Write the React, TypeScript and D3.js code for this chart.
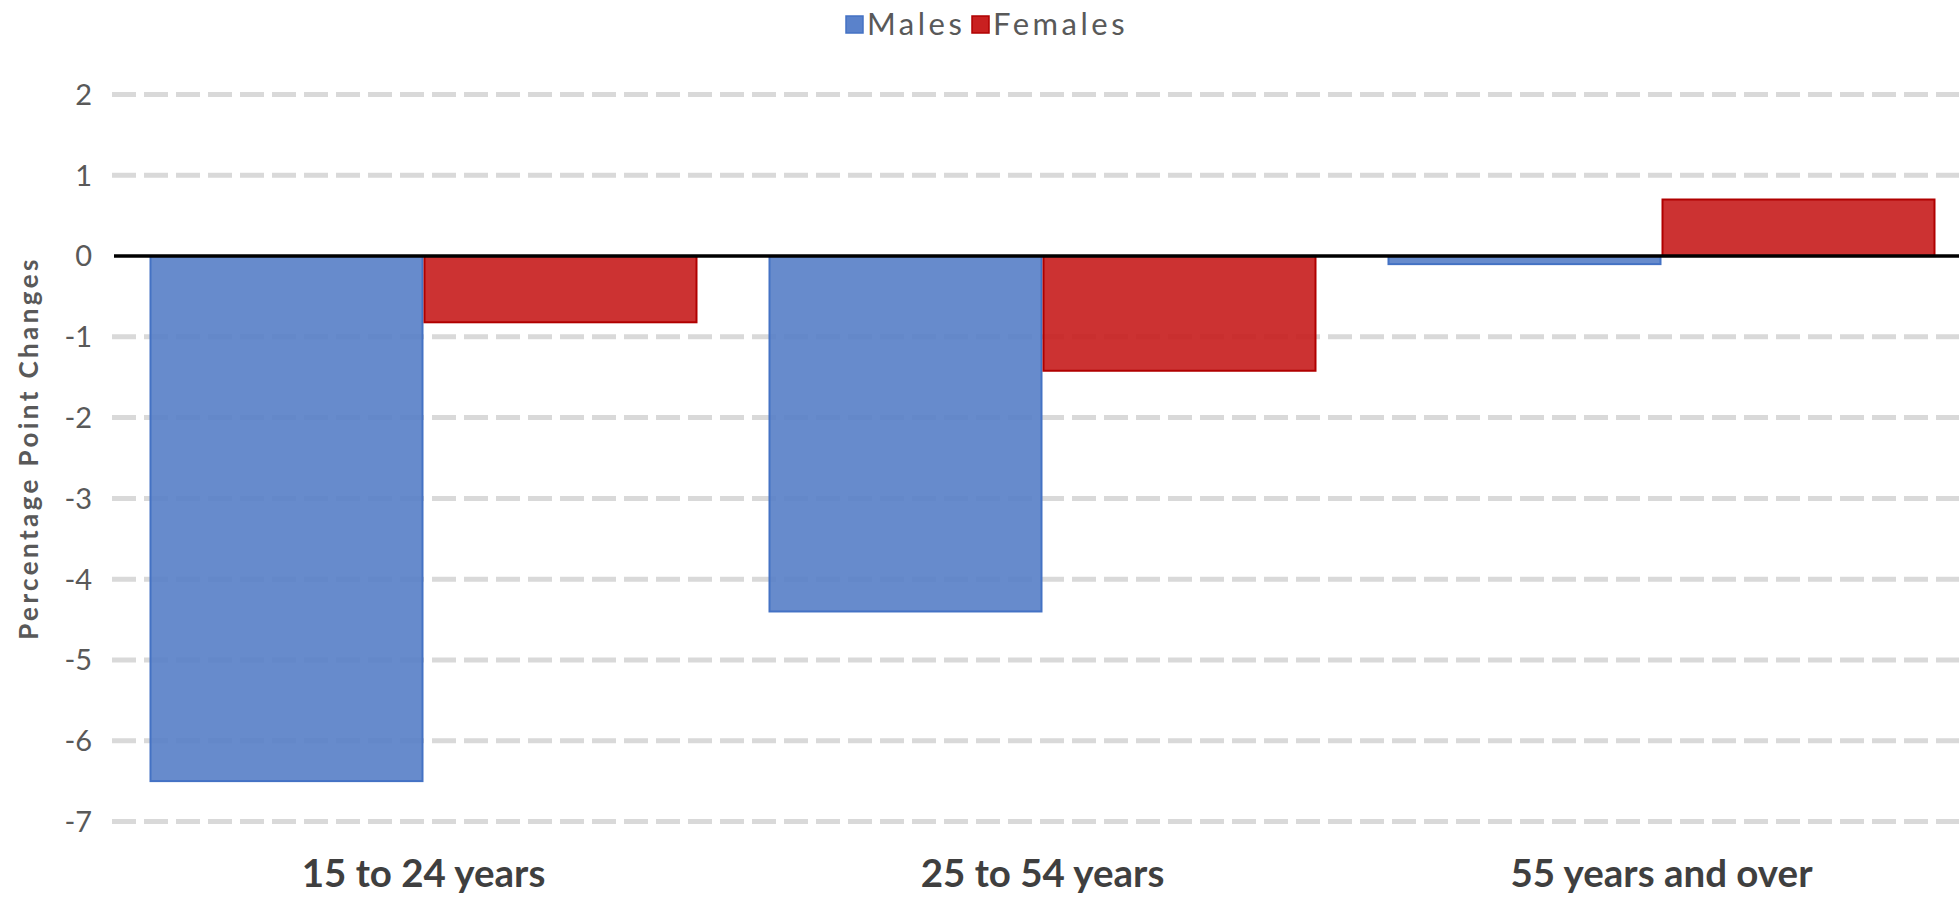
import React from "react";
import * as d3 from "d3";

// Change in employment rate by age group and sex (percentage points)
const categories = ["15 to 24 years", "25 to 54 years", "55 years and over"];
const seriesNames = ["Males", "Females"];
const males = [-6.5, -4.4, -0.1];
const females = [-0.82, -1.42, 0.7];
const yTicks = [2, 1, 0, -1, -2, -3, -4, -5, -6, -7];

const W = 1959;
const H = 897;

const fills = ["#567EC7", "#C71C1C"];
const strokes = ["#4472C4", "#B00000"];
const legendFills = ["#5A82CB", "#C92020"];

const FONT = "Lato, 'Open Sans', sans-serif";

export default function App() {
  const plotLeft = 114;
  const step = 619;
  const x0 = d3
    .scaleBand<string>()
    .domain(categories)
    .range([plotLeft, plotLeft + step * categories.length])
    .paddingInner(0.1147)
    .paddingOuter(0.1147 / 2);
  const x1 = d3
    .scaleBand<string>()
    .domain(seriesNames)
    .range([0, x0.bandwidth()])
    .padding(0);
  const y = d3.scaleLinear().domain([-7, 2]).range([821.5, 94.5]);

  const values = [males, females];

  return (
    <svg
      width={W}
      height={H}
      style={{ position: "absolute", left: 0, top: 0, background: "#fff" }}
      fontFamily={FONT}
    >
      {/* dashed horizontal gridlines */}
      {yTicks
        .filter((t) => t !== 0)
        .map((t) => (
          <line
            key={"g" + t}
            x1={plotLeft - 2}
            x2={W}
            y1={y(t)}
            y2={y(t)}
            stroke="#D9D9D9"
            strokeWidth={5}
            strokeDasharray="24 8"
          />
        ))}

      {/* bars */}
      {categories.map((c, ci) =>
        seriesNames.map((s, si) => {
          const v = values[si][ci];
          const bx = (x0(c) as number) + (x1(s) as number);
          const top = Math.min(y(v), y(0));
          const h = Math.abs(y(v) - y(0));
          return (
            <rect
              key={c + s}
              x={bx + 1}
              y={top}
              width={x1.bandwidth() - 2}
              height={h}
              fill={fills[si]}
              fillOpacity={0.9}
              stroke={strokes[si]}
              strokeWidth={2}
            />
          );
        })
      )}

      {/* zero line */}
      <line x1={plotLeft} x2={W} y1={y(0)} y2={y(0)} stroke="#000" strokeWidth={3.5} />

      {/* y tick labels */}
      {yTicks.map((t) => (
        <text
          key={"t" + t}
          x={92}
          y={y(t)}
          dy="0.36em"
          textAnchor="end"
          fontSize={29}
          fill="#595959"
        >
          {t}
        </text>
      ))}

      {/* y axis title */}
      <text
        transform={`translate(29, 448) rotate(-90)`}
        textAnchor="middle"
        dy="0.35em"
        fontSize={26}
        fontWeight={700}
        letterSpacing={3.4}
        fill="#595959"
      >
        Percentage Point Changes
      </text>

      {/* category labels */}
      {categories.map((c) => (
        <text
          key={"c" + c}
          x={(x0(c) as number) + x0.bandwidth() / 2}
          y={887}
          textAnchor="middle"
          fontSize={38.5}
          fontWeight={700}
          fill="#3F3F3F"
        >
          {c}
        </text>
      ))}

      {/* legend */}
      {seriesNames.map((s, i) => {
        const lx = [846, 972][i];
        return (
          <g key={"l" + s}>
            <rect
              x={lx}
              y={16}
              width={17}
              height={17}
              fill={legendFills[i]}
              stroke={strokes[i]}
              strokeWidth={1.5}
            />
            <text x={lx + 21} y={35} fontSize={31} letterSpacing={3.5} fill="#595959">
              {s}
            </text>
          </g>
        );
      })}
    </svg>
  );
}
